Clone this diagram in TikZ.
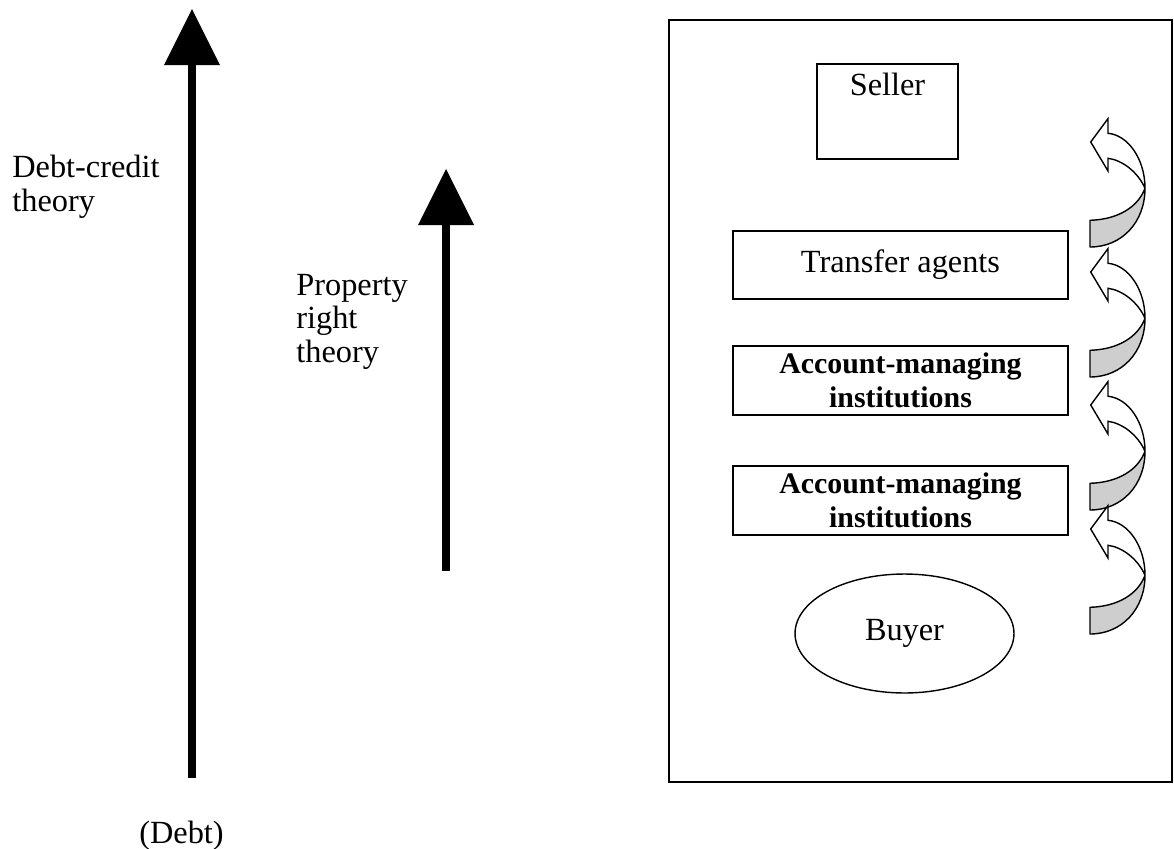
\documentclass[tikz,border=0pt]{standalone}
\usepackage{fontspec}
\setmainfont{Liberation Serif}
\usetikzlibrary{arrows.meta,shapes.geometric}

\definecolor{bandgray}{RGB}{206,206,206}

\begin{document}
\begin{tikzpicture}[x=0.02cm, y=-0.02cm,
    theoryarrow/.style={line width=4.2pt, -{Triangle[length=32pt, width=32pt, line width=0pt]}},
    theorylabel/.style={inner sep=0pt, align=left, font=\fontsize{18.4}{19}\selectfont},
    frame/.style={line width=0.85pt},
    actor/.style={draw, line width=0.8pt, font=\fontsize{18.4}{19}\selectfont, align=center},
    institution/.style={actor, font=\fontsize{17}{19}\selectfont\bfseries},
    band/.style={line width=0.8pt, line join=round, fill=bandgray},
    turnhead/.style={line width=0.8pt, line join=miter, fill=white}]
  % A curved arrow that turns back to the left: #1 = x of the left edge of its band,
  % #2 = y of the bottom of its band. The lower part is the shaded back of the band.
  \newcommand{\turnarrow}[2]{%
    \begin{scope}[shift={(#1,#2)}, y=0.02cm]
      \draw[band] (0,0) -- (0,26.7) .. controls (28,27.5) and (48,40) .. (55,58.7)
                  .. controls (55,25) and (32,0) .. cycle;
      \draw[turnhead] (55,58.7) .. controls (55,88) and (38,112) .. (18,113.7)
                      -- (18,128.4) -- (0.7,105) -- (18,76) -- (18,88.7)
                      .. controls (32,87) and (48,75) .. (55,58.7);
    \end{scope}}

  \useasboundingbox (0,0) rectangle (1174,849);

  % the two theories, as arrows pointing up
  \coordinate (debtbot) at (192,778);
  \coordinate (debttop) at (192,9);
  \coordinate (propbot) at (446,571);
  \coordinate (proptop) at (446,169);
  \draw[theoryarrow] (debtbot) -- (debttop);
  \draw[theoryarrow] (propbot) -- (proptop);
  \node (debtcredit) [theorylabel, anchor=north west] at (12,155) {Debt-credit\\theory};
  \node (property) [theorylabel, anchor=north west] at (296,274) {Property\\right\\theory};
  \node (debt) [theorylabel, anchor=base] at (181.5,843) {(Debt)};

  % the chain of holders from buyer to seller
  \draw[frame] (669,20) rectangle (1172,782);
  \node (seller) [actor, minimum width=2.82cm, minimum height=1.9cm,
    label={[anchor=north, yshift=-2pt, font=\fontsize{18.4}{19}\selectfont]north:Seller}]
    at (887.5,111.5) {};
  \node (transfer) [actor, minimum width=6.7cm, minimum height=1.36cm] at (900.5,265) {Transfer agents};
  \node (account1) [institution, minimum width=6.7cm, minimum height=1.38cm] at (900.5,380.5)
    {Account-managing\\institutions};
  \node (account2) [institution, minimum width=6.7cm, minimum height=1.38cm] at (900.5,500.5)
    {Account-managing\\institutions};
  \node (buyer) [actor, ellipse, minimum width=4.38cm, minimum height=2.38cm] at (904.5,633.5) {Buyer};

  \turnarrow{1090}{247}
  \turnarrow{1090}{377}
  \turnarrow{1090}{510}
  \turnarrow{1090}{634}
\end{tikzpicture}
\end{document}
